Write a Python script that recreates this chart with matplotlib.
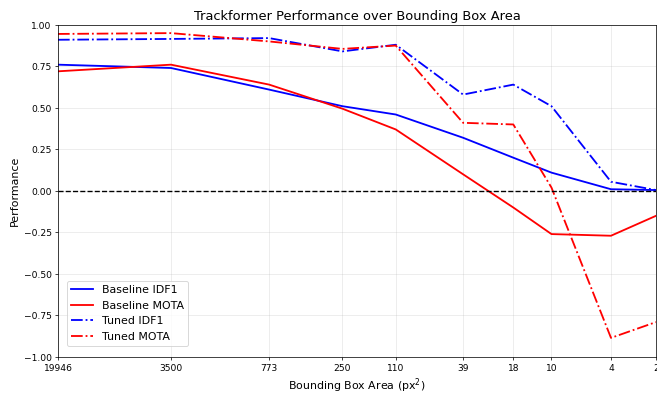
import matplotlib
matplotlib.use("Agg")
import matplotlib.pyplot as plt

areas = [19946, 3500, 773, 250, 110, 39, 18, 10, 4, 2]
tick_labels = ["19946", "3500", "773", "250", "110", "39", "18", "10", "4", "2"]
baseline_idf1 = [0.76, 0.74, 0.61, 0.51, 0.46, 0.32, 0.20, 0.11, 0.01, 0.005]
baseline_mota = [0.72, 0.76, 0.64, 0.495, 0.37, 0.10, -0.10, -0.26, -0.27, -0.15]
tuned_idf1 = [0.91, 0.915, 0.92, 0.84, 0.88, 0.58, 0.64, 0.51, 0.055, 0.005]
tuned_mota = [0.945, 0.95, 0.90, 0.855, 0.875, 0.41, 0.40, 0.02, -0.885, -0.79]

DPI = 65.7
fig = plt.figure(figsize=(10, 6), dpi=DPI)
ax = fig.add_axes([58/657, (394-357)/394, (656-58)/657, (357-25)/394])

ax.plot(areas, baseline_idf1, color="blue", linestyle="-", lw=2, label="Baseline IDF1")
ax.plot(areas, baseline_mota, color="red", linestyle="-", lw=2, label="Baseline MOTA")
ax.plot(areas, tuned_idf1, color="blue", linestyle="-.", lw=2, label="Tuned IDF1")
ax.plot(areas, tuned_mota, color="red", linestyle="-.", lw=2, label="Tuned MOTA")
ax.axhline(0, color="black", linestyle="--", lw=1.5)

ax.set_xscale("log")
ax.set_xlim(areas[0], areas[-1])
ax.set_xticks(areas)
ax.set_xticklabels(tick_labels)
ax.minorticks_off()
ax.set_ylim(-1, 1)
ax.set_yticks([-1, -0.75, -0.5, -0.25, 0, 0.25, 0.5, 0.75, 1.0])
ax.grid(True, alpha=0.3)
ax.tick_params(labelsize=10)
ax.set_xlabel("Bounding Box Area (px$^2$)", fontsize=12)
ax.set_ylabel("Performance", fontsize=12)
ax.set_title("Trackformer Performance over Bounding Box Area", fontsize=14.3)
ax.legend(loc="lower left", fontsize=12, bbox_to_anchor=(0.015, 0.033), borderaxespad=0)

fig.savefig("out.png", dpi=DPI)
